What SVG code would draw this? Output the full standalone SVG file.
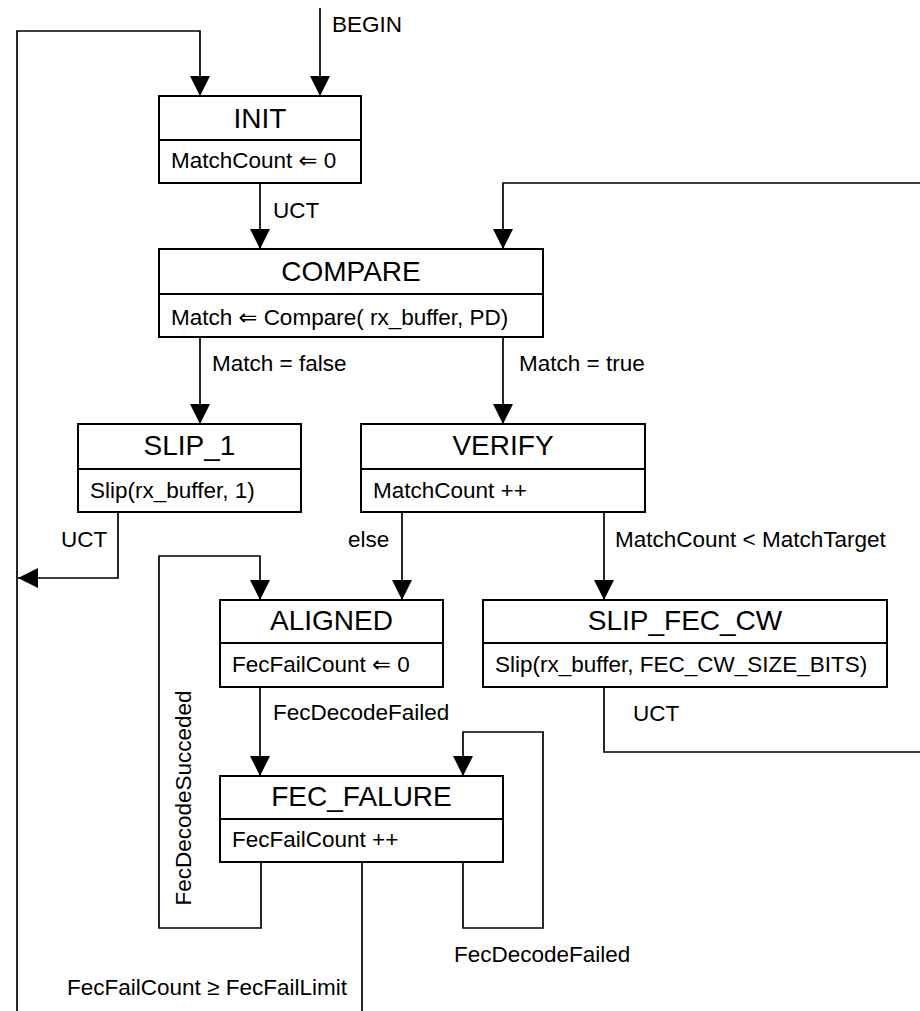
<svg xmlns="http://www.w3.org/2000/svg" width="920" height="1011" viewBox="0 0 920 1011">
<style>
.box{fill:#fff;stroke:#000;stroke-width:2}
.div{stroke:#000;stroke-width:2}
.ttl{font-family:"Liberation Sans",Arial,sans-serif;font-size:28px;text-anchor:middle;fill:#000}
.sub{font-family:"Liberation Sans","DejaVu Sans",Arial,sans-serif;font-size:22.5px;fill:#000}
.lbl{font-family:"Liberation Sans","DejaVu Sans",Arial,sans-serif;font-size:22.5px;fill:#000}
.wire{fill:none;stroke:#000;stroke-width:1.7}
</style>
<defs>
<marker id="ah" markerUnits="userSpaceOnUse" markerWidth="20" markerHeight="20" refX="20" refY="10" orient="auto">
<path d="M0,0 L20,10 L0,20 Z" fill="#000"/>
</marker>
</defs>
<g id="connectors">
<path class="wire" d="M17,1011 L17,31 L200,31 L200,96" marker-end="url(#ah)"/>
<path class="wire" d="M320,8 L320,96" marker-end="url(#ah)"/>
<path class="wire" d="M260,183 L260,249" marker-end="url(#ah)"/>
<path class="wire" d="M920,183 L503,183 L503,249" marker-end="url(#ah)"/>
<path class="wire" d="M200,337 L200,424" marker-end="url(#ah)"/>
<path class="wire" d="M503,337 L503,424" marker-end="url(#ah)"/>
<path class="wire" d="M118,512 L118,578 L18,578" marker-end="url(#ah)"/>
<path class="wire" d="M402,512 L402,600" marker-end="url(#ah)"/>
<path class="wire" d="M604,512 L604,600" marker-end="url(#ah)"/>
<path class="wire" d="M604,687 L604,752 L920,752"/>
<path class="wire" d="M261,862 L261,928 L159,928 L159,556 L260,556 L260,600" marker-end="url(#ah)"/>
<path class="wire" d="M260,687 L260,776" marker-end="url(#ah)"/>
<path class="wire" d="M463,862 L463,928 L543,928 L543,732 L463,732 L463,776" marker-end="url(#ah)"/>
<path class="wire" d="M362,862 L362,1011"/>
<text class="lbl" x="332" y="32">BEGIN</text>
<text class="lbl" x="273" y="218">UCT</text>
<text class="lbl" x="212" y="371">Match = false</text>
<text class="lbl" x="519" y="371">Match = true</text>
<text class="lbl" x="61" y="547">UCT</text>
<text class="lbl" x="348" y="547">else</text>
<text class="lbl" x="615" y="547">MatchCount &lt; MatchTarget</text>
<text class="lbl" x="273" y="720">FecDecodeFailed</text>
<text class="lbl" x="633" y="721">UCT</text>
<text class="lbl" x="454" y="962">FecDecodeFailed</text>
<text class="lbl" x="67" y="995">FecFailCount ≥ FecFailLimit</text>
<text class="lbl" text-anchor="middle" transform="translate(191,798) rotate(-90)">FecDecodeSucceded</text>
</g>
<g id="INIT">
<rect class="box" x="159" y="96" width="202" height="87"/>
<line class="div" x1="159" y1="140" x2="361" y2="140"/>
<text class="ttl" x="260" y="128">INIT</text>
<text class="sub" x="171" y="168">MatchCount ⇐ 0</text>
</g>
<g id="COMPARE">
<rect class="box" x="159" y="249" width="384" height="88"/>
<line class="div" x1="159" y1="294" x2="543" y2="294"/>
<text class="ttl" x="351" y="281">COMPARE</text>
<text class="sub" x="171" y="325">Match ⇐ Compare( rx_buffer, PD)</text>
</g>
<g id="SLIP_1">
<rect class="box" x="78" y="424" width="223" height="88"/>
<line class="div" x1="78" y1="469" x2="301" y2="469"/>
<text class="ttl" x="189.5" y="455">SLIP_1</text>
<text class="sub" x="90" y="498">Slip(rx_buffer, 1)</text>
</g>
<g id="VERIFY">
<rect class="box" x="361" y="424" width="284" height="88"/>
<line class="div" x1="361" y1="469" x2="645" y2="469"/>
<text class="ttl" x="503" y="455">VERIFY</text>
<text class="sub" x="373" y="498">MatchCount ++</text>
</g>
<g id="ALIGNED">
<rect class="box" x="220" y="600" width="223" height="87"/>
<line class="div" x1="220" y1="643" x2="443" y2="643"/>
<text class="ttl" x="331.5" y="630">ALIGNED</text>
<text class="sub" x="232" y="672">FecFailCount ⇐ 0</text>
</g>
<g id="SLIP_FEC_CW">
<rect class="box" x="483" y="600" width="404" height="87"/>
<line class="div" x1="483" y1="643" x2="887" y2="643"/>
<text class="ttl" x="685" y="630">SLIP_FEC_CW</text>
<text class="sub" x="495" y="672">Slip(rx_buffer, FEC_CW_SIZE_BITS)</text>
</g>
<g id="FEC_FALURE">
<rect class="box" x="220" y="776" width="283" height="86"/>
<line class="div" x1="220" y1="819" x2="503" y2="819"/>
<text class="ttl" x="361.5" y="806">FEC_FALURE</text>
<text class="sub" x="232" y="847">FecFailCount ++</text>
</g>
</svg>
